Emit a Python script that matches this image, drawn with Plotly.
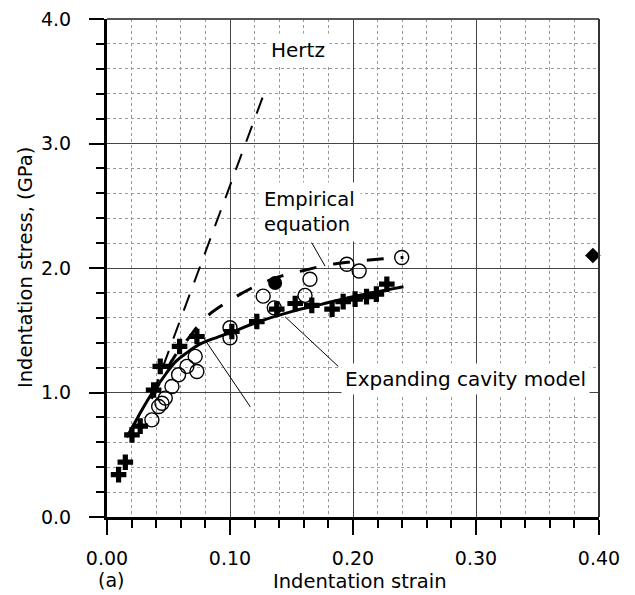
import plotly.graph_objects as go

# ---- data ----
cross_x = [0.0094, 0.0149, 0.0203, 0.027, 0.0379, 0.0433, 0.059, 0.0731, 0.1015, 0.1218,
           0.138, 0.153, 0.1665, 0.183, 0.192, 0.2017, 0.211, 0.219, 0.2275]
cross_y = [0.34, 0.44, 0.66, 0.73, 1.02, 1.21, 1.37, 1.45, 1.49, 1.57,
           1.67, 1.715, 1.70, 1.67, 1.73, 1.75, 1.77, 1.79, 1.87]

circle_x = [0.0365, 0.042, 0.0447, 0.0474, 0.0528, 0.0582, 0.065, 0.0717, 0.0731, 0.100,
            0.100, 0.127, 0.136, 0.161, 0.165, 0.195, 0.205, 0.2396]
circle_y = [0.78, 0.887, 0.914, 0.955, 1.048, 1.143, 1.21, 1.29, 1.169, 1.52,
            1.44, 1.774, 1.68, 1.78, 1.91, 2.03, 1.976, 2.084]

filled_circle_x = [0.1367]
filled_circle_y = [1.88]

diamond_x = [0.395]
diamond_y = [2.10]

hertz_x = [0.037, 0.1265]
hertz_y = [0.98, 3.37]

empirical_x = [0.036, 0.045, 0.055, 0.065, 0.08, 0.10, 0.12, 0.14, 0.16, 0.18, 0.20, 0.22, 0.241]
empirical_y = [0.95, 1.12, 1.29, 1.42, 1.60, 1.74, 1.85, 1.93, 1.98, 2.025, 2.05, 2.07, 2.085]

cavity_x = [0.016, 0.025, 0.035, 0.045, 0.055, 0.065, 0.0758, 0.09, 0.10, 0.1245, 0.15, 0.175, 0.20, 0.22, 0.241]
cavity_y = [0.64, 0.80, 0.97, 1.11, 1.24, 1.32, 1.39, 1.445, 1.48, 1.573, 1.65, 1.71, 1.77, 1.81, 1.85]

x_ticks = [0.0, 0.1, 0.2, 0.3, 0.4]
x_tick_labels = ["0.00", "0.10", "0.20", "0.30", "0.40"]
y_ticks = [0.0, 1.0, 2.0, 3.0, 4.0]
y_tick_labels = ["0.0", "1.0", "2.0", "3.0", "4.0"]

FONT = "DejaVu Sans"

fig = go.Figure()

fig.add_trace(go.Scatter(x=hertz_x, y=hertz_y, mode="lines",
                         line=dict(color="black", width=2, dash="17px,13px"),
                         showlegend=False))
fig.add_trace(go.Scatter(x=empirical_x, y=empirical_y, mode="lines", line_shape="spline",
                         line=dict(color="black", width=3, dash="17px,17px"),
                         showlegend=False))
fig.add_trace(go.Scatter(x=cavity_x, y=cavity_y, mode="lines", line_shape="spline",
                         line=dict(color="black", width=3),
                         showlegend=False))
fig.add_trace(go.Scatter(x=circle_x, y=circle_y, mode="markers",
                         marker=dict(symbol="circle-open", size=14, color="black",
                                     line=dict(width=1.4, color="black")),
                         showlegend=False))
fig.add_trace(go.Scatter(x=cross_x, y=cross_y, mode="markers",
                         marker=dict(symbol="cross", size=13, color="black",
                                     line=dict(width=0)),
                         showlegend=False))
fig.add_trace(go.Scatter(x=filled_circle_x, y=filled_circle_y, mode="markers",
                         marker=dict(symbol="circle", size=14, color="black"),
                         showlegend=False))
fig.add_trace(go.Scatter(x=diamond_x, y=diamond_y, mode="markers",
                         marker=dict(symbol="diamond", size=12, color="black"),
                         showlegend=False, cliponaxis=False))

axis_common = dict(
    showline=True, linecolor="black", linewidth=3,
    ticks="outside", ticklen=15, tickwidth=2, tickcolor="black",
    showgrid=True, gridcolor="#444", gridwidth=1,
    zeroline=False,
    tickfont=dict(family=FONT, size=19, color="black"),
    ticklabeloverflow="allow",
    layer="below traces",
)

fig.update_xaxes(range=[0, 0.4], tickmode="array", tickvals=x_ticks, ticktext=x_tick_labels,
                 minor=dict(dtick=0.02, tick0=0, ticks="outside", ticklen=8, tickwidth=2,
                            tickcolor="black", showgrid=True, gridcolor="#999",
                            griddash="dot", gridwidth=1),
                 ticklabelstandoff=7,
                 **axis_common)
fig.update_yaxes(range=[0, 4], tickmode="array", tickvals=y_ticks, ticktext=y_tick_labels,
                 minor=dict(dtick=0.2, tick0=0, ticks="outside", ticklen=8, tickwidth=2,
                            tickcolor="black", showgrid=True, gridcolor="#999",
                            griddash="dot", gridwidth=1),
                 ticklabelstandoff=14,
                 **axis_common)

# top and right borders (thinner, grey)
fig.add_shape(type="line", xref="paper", yref="paper", x0=0, x1=1, y0=1, y1=1,
              line=dict(color="#555", width=2))
fig.add_shape(type="line", xref="paper", yref="paper", x0=1, x1=1, y0=0, y1=1,
              line=dict(color="#333", width=2))

# leader lines
fig.add_shape(type="line", x0=0.1664, y0=2.204, x1=0.1773, y1=2.015,
              line=dict(color="black", width=1))
fig.add_shape(type="line", x0=0.1448, y0=1.608, x1=0.188, y1=1.21,
              line=dict(color="black", width=1))
fig.add_shape(type="line", x0=0.0785, y0=1.44, x1=0.1165, y1=0.885,
              line=dict(color="black", width=1))

# text labels
fig.add_annotation(x=0.155, y=3.75, text="Hertz", showarrow=False,
                   font=dict(family=FONT, size=20, color="black"),
                   bgcolor="white", borderpad=4)
fig.add_annotation(x=0.1225, y=2.45, text="Empirical<br>equation", showarrow=False,
                   xanchor="left", align="left",
                   font=dict(family=FONT, size=19.5, color="black"),
                   bgcolor="white", borderpad=5)
fig.add_annotation(x=0.19, y=1.11, text="Expanding cavity model", showarrow=False,
                   xanchor="left",
                   font=dict(family=FONT, size=20, color="black"),
                   bgcolor="white", borderpad=3)

# axis titles and panel label
fig.add_annotation(xref="paper", yref="paper", x=0, y=0.5, xshift=-82,
                   text="Indentation stress, (GPa)", textangle=-90, showarrow=False,
                   xanchor="center", yanchor="middle",
                   font=dict(family=FONT, size=19.5, color="black"))
fig.add_annotation(xref="paper", yref="paper", x=0.5, y=0, xshift=7, yshift=-64,
                   text="Indentation strain", showarrow=False,
                   xanchor="center", yanchor="middle",
                   font=dict(family=FONT, size=19.5, color="black"))
fig.add_annotation(xref="paper", yref="paper", x=0, y=0, xshift=4, yshift=-63,
                   text="(a)", showarrow=False,
                   xanchor="center", yanchor="middle",
                   font=dict(family=FONT, size=19, color="black"))

# the page body adds an 8px offset; margins compensate so the plot area
# lands at x 107-599, y 19-517 in the window
fig.update_layout(
    width=635, height=595,
    margin=dict(l=99, r=44, t=11, b=86, autoexpand=False),
    paper_bgcolor="white", plot_bgcolor="white",
    showlegend=False,
)

fig.write_html("out.html")
